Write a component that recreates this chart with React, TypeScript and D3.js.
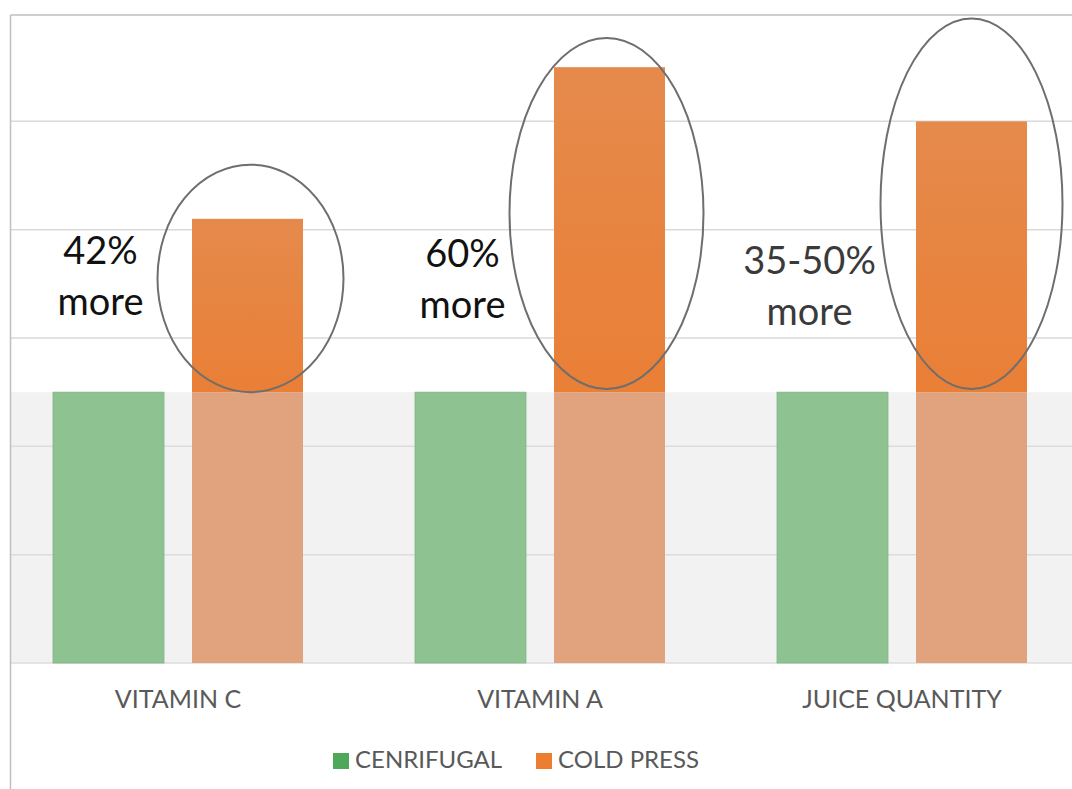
import React from "react";
import * as d3 from "d3";

const categories = ["VITAMIN C", "VITAMIN A", "JUICE QUANTITY"];
const seriesNames = ["CENRIFUGAL", "COLD PRESS"];
const centrifugal = [2.5, 2.5, 2.5];
const coldPress = [4.1, 5.5, 5.0];
const yTicks = [0, 1, 2, 3, 4, 5, 6];
const notes = [
  ["42%", "more"],
  ["60%", "more"],
  ["35-50%", "more"],
];
// ellipse annotations in value units: [top, bottom]
const ellipseTop = [4.6, 5.77, 5.95];
const ellipseBottom = [2.5, 2.53, 2.53];

const W = 1072;
const H = 789;

export default function App() {
  const y = d3.scaleLinear().domain([0, 6]).range([663, 13]);
  const x0 = d3.scaleBand().domain(categories).range([-3, 1083]).padding(0);
  const x1 = d3
    .scaleBand()
    .domain(seriesNames)
    .range([56, 306])
    .paddingInner(0.2014);
  const bw = x1.bandwidth();
  const font = "Lato, 'Open Sans', sans-serif";
  const green = "#8ec391";
  const orangeTop = "#e8843f";
  const orangeLow = "#e0a37e";
  const rx = [93, 97, 91];
  const dxE = [3, -3, 0];
  const noteDx = [-8, -8, -23];
  const noteBase = [264, 267, 274];
  const noteColor = ["#111", "#111", "#3a3a3a"];

  return (
    <svg
      width={W}
      height={H}
      style={{ position: "absolute", left: 0, top: 0, background: "#fff" }}
      fontFamily={font}
    >
      <defs>
        <clipPath id="plot">
          <rect x={11} y={15} width={W - 11} height={H - 15} />
        </clipPath>
        <linearGradient id="og" x1="0" x2="0" y1="0" y2="1">
          <stop offset="0" stopColor="#e58a4c" />
          <stop offset="1" stopColor="#ea7f36" />
        </linearGradient>
      </defs>
      <g clipPath="url(#plot)">
        {/* lower shaded band */}
        <rect
          x={11}
          y={y(2.5)}
          width={W - 11}
          height={y(0) - y(2.5)}
          fill="#f3f2f3"
        />
        {yTicks.map((t) => (
          <line
            key={t}
            x1={11}
            x2={W}
            y1={y(t)}
            y2={y(t)}
            stroke={t < 2.5 ? "#dcdcdc" : "#d9d9d9"}
            strokeWidth={1.5}
          />
        ))}
        {categories.map((c, i) => {
          const gx = x0(c)!;
          const gX = gx + x1(seriesNames[0])!;
          const oX = gx + x1(seriesNames[1])!;
          const split = Math.min(coldPress[i], centrifugal[i]);
          return (
            <g key={c}>
              <rect
                x={gX}
                y={y(centrifugal[i])}
                width={bw}
                height={y(0) - y(centrifugal[i])}
                fill={green}
                stroke="#7fb583"
                strokeWidth={0.8}
              />
              <rect
                x={oX}
                y={y(coldPress[i])}
                width={bw}
                height={y(split) - y(coldPress[i])}
                fill="url(#og)"
              />
              <rect
                x={oX}
                y={y(split)}
                width={bw}
                height={y(0) - y(split)}
                fill={orangeLow}
              />
            </g>
          );
        })}
        {categories.map((c, i) => {
          const oC = x0(c)! + x1(seriesNames[1])! + bw / 2 + dxE[i];
          const top = y(ellipseTop[i]);
          const bot = y(ellipseBottom[i]);
          return (
            <ellipse
              key={"e" + c}
              cx={oC}
              cy={(top + bot) / 2}
              rx={rx[i]}
              ry={(bot - top) / 2}
              fill="none"
              stroke="#6e6e6e"
              strokeWidth={2}
            />
          );
        })}
        {categories.map((c, i) => {
          const gC = x0(c)! + x1(seriesNames[0])! + bw / 2 + noteDx[i];
          return (
            <text
              key={"n" + c}
              x={gC}
              y={noteBase[i]}
              textAnchor="middle"
              fontSize={38}
              fill={noteColor[i]}
            >
              <tspan x={gC}>{notes[i][0]}</tspan>
              <tspan x={gC} dy={51}>
                {notes[i][1]}
              </tspan>
            </text>
          );
        })}
        {categories.map((c) => (
          <text
            key={"l" + c}
            x={x0(c)! + x0.bandwidth() / 2}
            y={708}
            textAnchor="middle"
            fontSize={25}
            fill="#595959"
          >
            {c}
          </text>
        ))}
      </g>
      {/* border */}
      <line x1={10.5} x2={10.5} y1={15} y2={H} stroke="#bfbfbf" strokeWidth={1.5} />
      <line x1={10.5} x2={W} y1={15} y2={15} stroke="#bfbfbf" strokeWidth={1.5} />
      {/* legend */}
      <g>
        <rect x={333} y={753} width={16} height={16} fill="#4ea85a" />
        <text x={355} y={768} fontSize={24} fill="#595959">
          {seriesNames[0]}
        </text>
        <rect x={536} y={753} width={16} height={16} fill="#ed7d31" />
        <text x={558} y={768} fontSize={24} fill="#595959">
          {seriesNames[1]}
        </text>
      </g>
    </svg>
  );
}
